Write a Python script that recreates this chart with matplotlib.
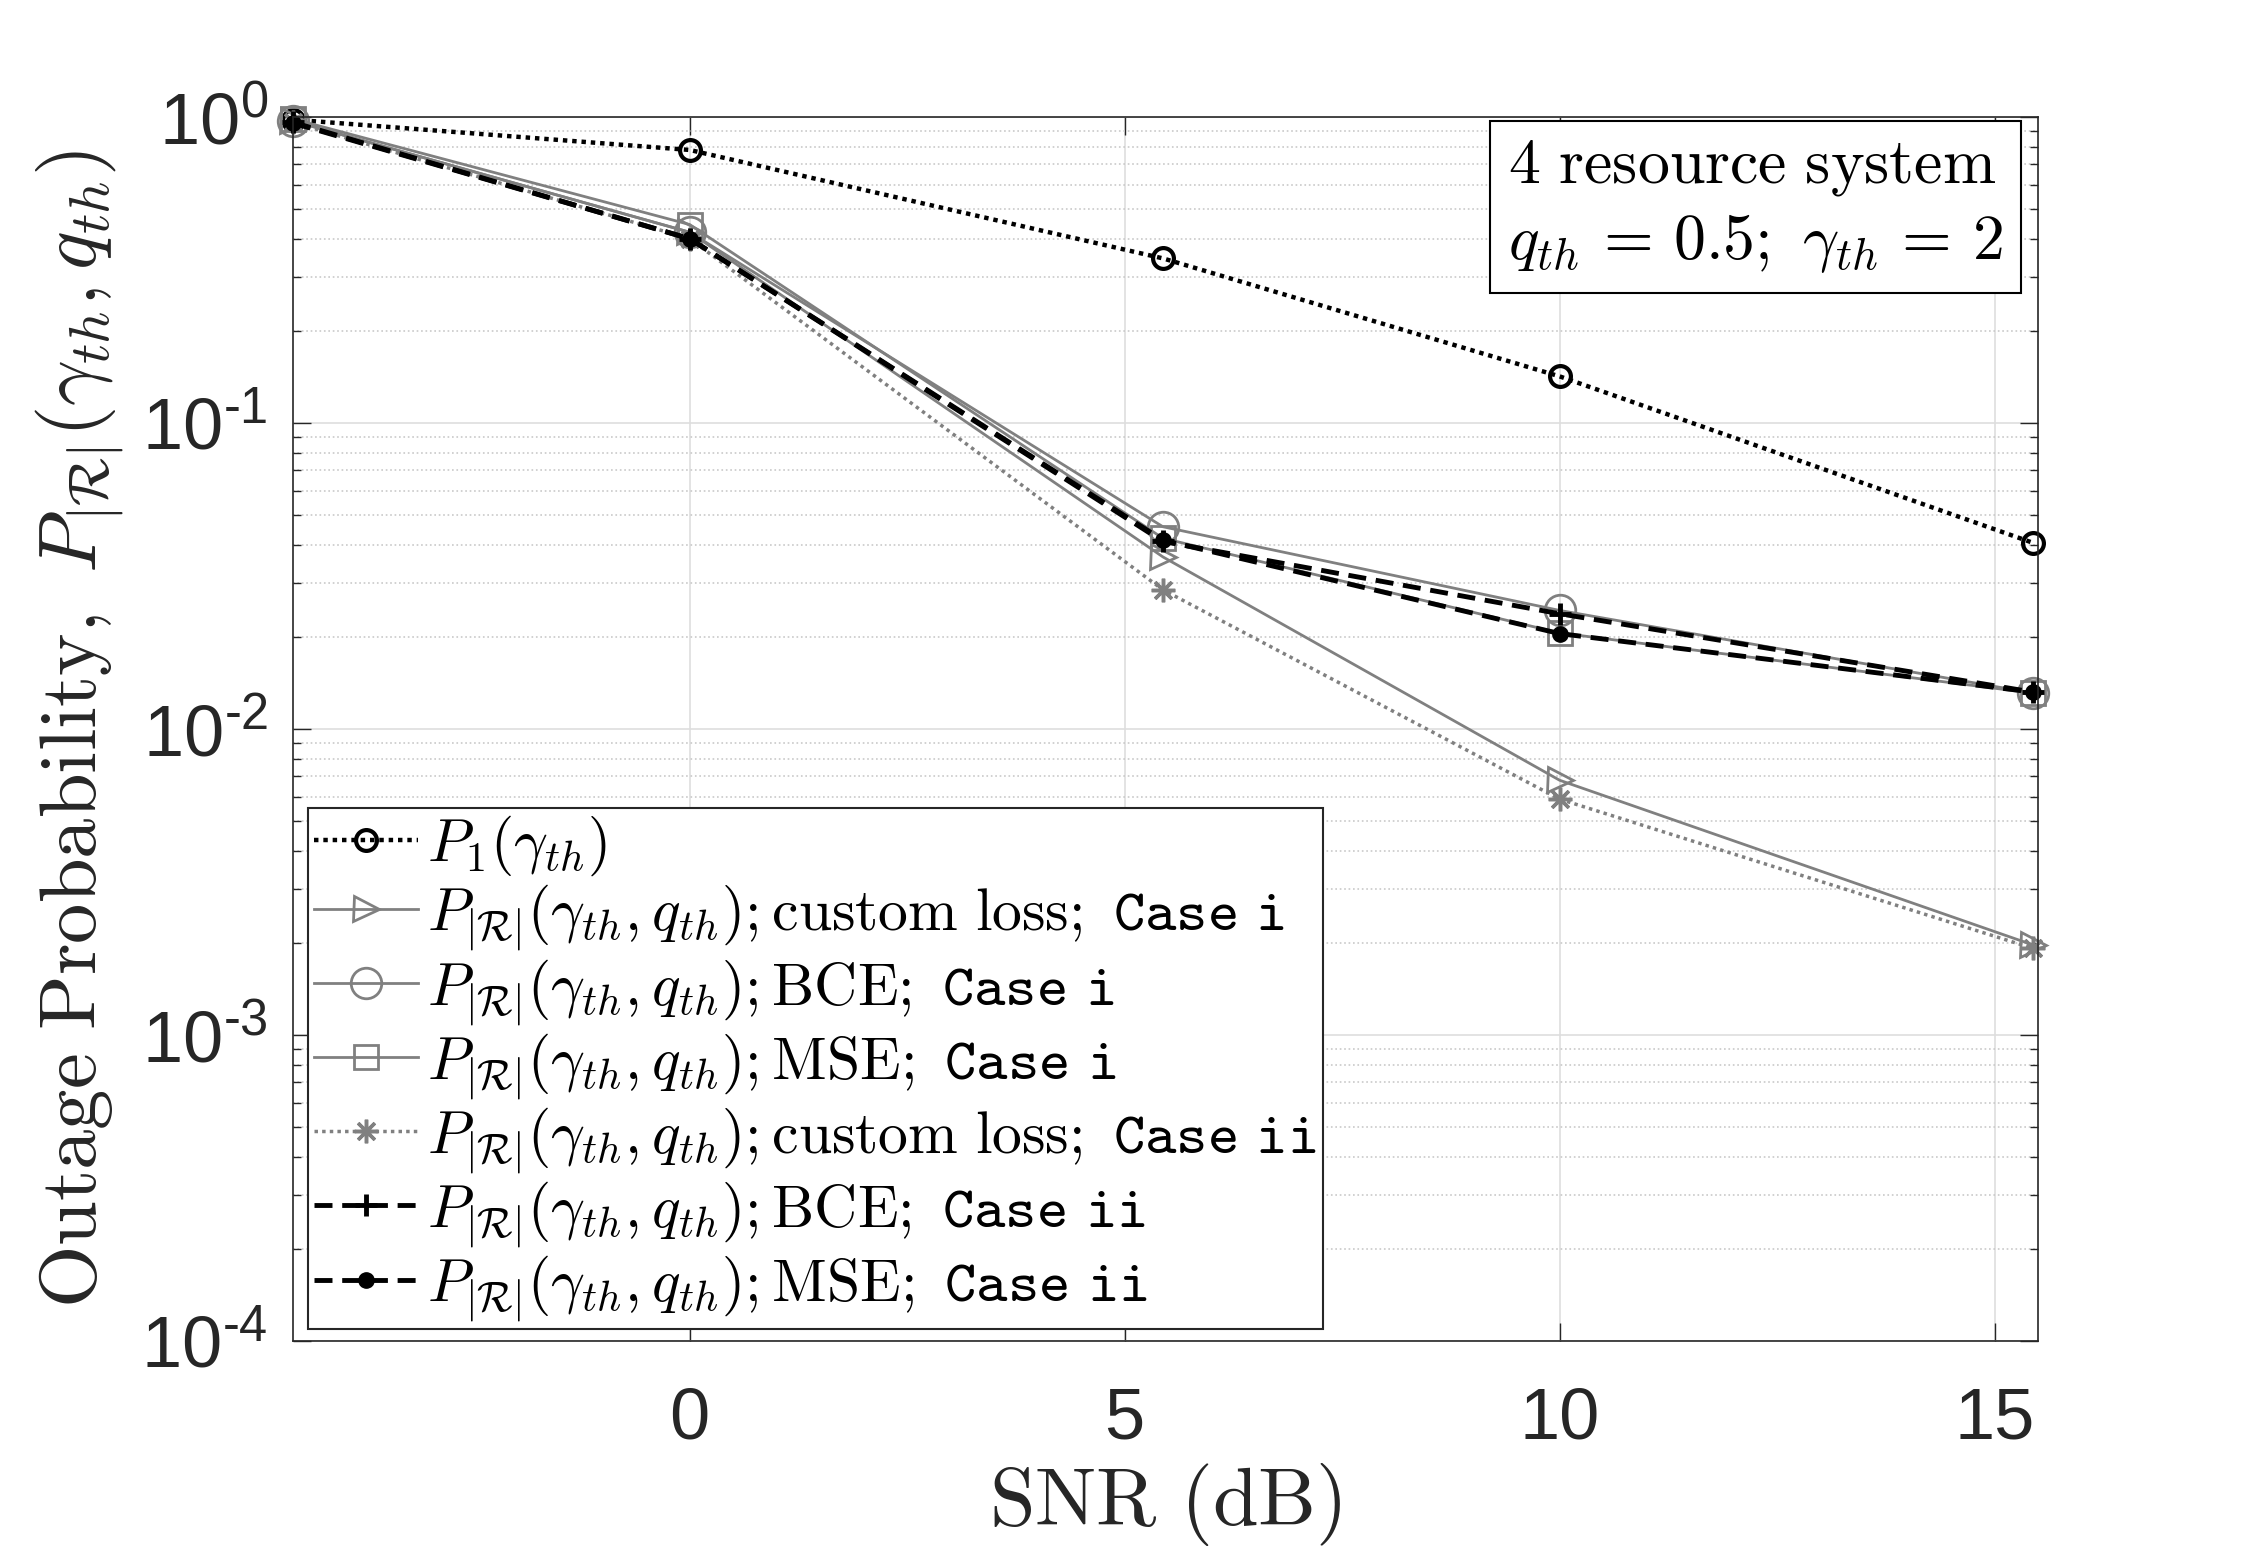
import numpy as np
import matplotlib
matplotlib.use("Agg")
import matplotlib.pyplot as plt
from matplotlib.ticker import FixedLocator, NullFormatter

plt.rcParams['mathtext.fontset'] = 'cm'
plt.rcParams['font.family'] = ['Liberation Sans', 'DejaVu Sans']

# SNR points (dB)
snr = [-4.56, 0, 5.44, 10, 15.44]

# outage probabilities
p1 = [0.98, 0.78, 0.345, 0.142, 0.0406]
custom_i = [0.97, 0.42, 0.0365, 0.0068, 0.00197]
bce_i = [0.97, 0.42, 0.0458, 0.0244, 0.0131]
mse_i = [0.985, 0.445, 0.042, 0.0206, 0.0131]
custom_ii = [0.96, 0.40, 0.0285, 0.0059, 0.00192]
bce_ii = [0.96, 0.40, 0.041, 0.0238, 0.0132]
mse_ii = [0.955, 0.40, 0.0414, 0.0205, 0.0132]

P = r'P_{|\mathcal{R}|}(\gamma_{th},q_{th})'
labels = [r'$P_1(\gamma_{th})$',
          r'$' + P + r';\mathrm{custom\ loss};\ \mathtt{Case\ i}$',
          r'$' + P + r';\mathrm{BCE};\ \mathtt{Case\ i}$',
          r'$' + P + r';\mathrm{MSE};\ \mathtt{Case\ i}$',
          r'$' + P + r';\mathrm{custom\ loss};\ \mathtt{Case\ ii}$',
          r'$' + P + r';\mathrm{BCE};\ \mathtt{Case\ ii}$',
          r'$' + P + r';\mathrm{MSE};\ \mathtt{Case\ ii}$']

xticks = [0, 5, 10, 15]
yticks = [1e-4, 1e-3, 1e-2, 1e-1, 1e0]
ytick_labels = ['$\\mathregular{10^{\u20104}}$', '$\\mathregular{10^{\u20103}}$',
                '$\\mathregular{10^{\u20102}}$', '$\\mathregular{10^{\u20101}}$',
                '$\\mathregular{10^{0}}$']

grey = '#808080'
dk = '#262626'

fig = plt.figure(figsize=(22.52, 15.55), dpi=100)
ax = fig.add_axes([0.1301, 0.1376, 0.7749, 0.7872])

ax.semilogy(snr, p1, color='k', ls=(0, (1, 1.1)), lw=3.2, marker='o', ms=15,
            mfc='none', mew=3, label=labels[0], clip_on=False)
ax.semilogy(snr, custom_i, color=grey, ls='-', lw=2, marker='>', ms=18,
            mfc='none', mew=2, label=labels[1], clip_on=False)
ax.semilogy(snr, bce_i, color=grey, ls='-', lw=2, marker='o', ms=22,
            mfc='none', mew=2, label=labels[2], clip_on=False)
ax.semilogy(snr, mse_i, color=grey, ls='-', lw=2, marker='s', ms=17,
            mfc='none', mew=2, label=labels[3], clip_on=False)
ax.semilogy(snr, custom_ii, color=grey, ls=(0, (1, 1.2)), lw=2.5, marker=(8, 2, 0), ms=17,
            mew=2.5, label=labels[4], clip_on=False)
ax.semilogy(snr, bce_ii, color='k', ls=(0, (3.7, 2)), lw=3.5, marker='+', ms=16,
            mew=3.5, label=labels[5], clip_on=False)
ax.semilogy(snr, mse_ii, color='k', ls=(0, (3.7, 2)), lw=3.5, marker='o', ms=11,
            mfc='k', mec='k', label=labels[6], clip_on=False)

ax.set_xlim(-4.56, 15.5)
ax.set_ylim(1e-4, 1)
ax.set_xticks(xticks)
ax.set_xticklabels([str(t) for t in xticks])
ax.set_yticks(yticks)
ax.set_yticklabels(ytick_labels)
ax.yaxis.set_minor_locator(FixedLocator(
    [m * 10.0 ** e for e in range(-4, 0) for m in range(2, 10)]))
ax.yaxis.set_minor_formatter(NullFormatter())

ax.tick_params(which='both', direction='in', top=True, right=True, colors=dk, width=1)
ax.tick_params(which='major', length=13, labelsize=52)
ax.tick_params(which='minor', length=6)
ax.tick_params(axis='x', which='major', pad=33)
ax.tick_params(axis='y', which='major', pad=18)
for s in ax.spines.values():
    s.set_color(dk)
    s.set_linewidth(1.2)

ax.set_axisbelow(True)
ax.grid(True, which='major', color='#dedede', lw=1.2)
ax.grid(True, which='minor', axis='y', color='#c9c9c9', ls=':', lw=1.2)

ax.set_xlabel(r'$\mathrm{SNR\ (dB)}$', fontsize=59, color=dk)
ax.xaxis.set_label_coords(0.5, -0.098)
ax.set_ylabel(r'$\mathrm{Outage\ Probability,}\ P_{|\mathcal{R}|}(\gamma_{th},q_{th})$',
              fontsize=58, color=dk)
ax.yaxis.set_label_coords(-0.095, 0.5)

leg = ax.legend(loc='lower left', bbox_to_anchor=(0.0086, 0.0098), fontsize=43,
                frameon=True, fancybox=False, edgecolor=dk, framealpha=1,
                handlelength=1.75, handletextpad=0.15, labelspacing=0.07,
                borderpad=0.1, borderaxespad=0)
leg.get_frame().set_linewidth(1.5)

ax.text(0.98, 0.9825,
        '$\\mathrm{4\\ resource\\ system}$\n$q_{th}\\,=\\,0.5;\\ \\gamma_{th}\\,=\\,2$',
        transform=ax.transAxes, ha='right', va='top', fontsize=46, linespacing=1.3,
        multialignment='left',
        bbox=dict(boxstyle='square,pad=0.28', fc='white', ec='k', lw=1.5))

fig.savefig('out.png', dpi=100)
